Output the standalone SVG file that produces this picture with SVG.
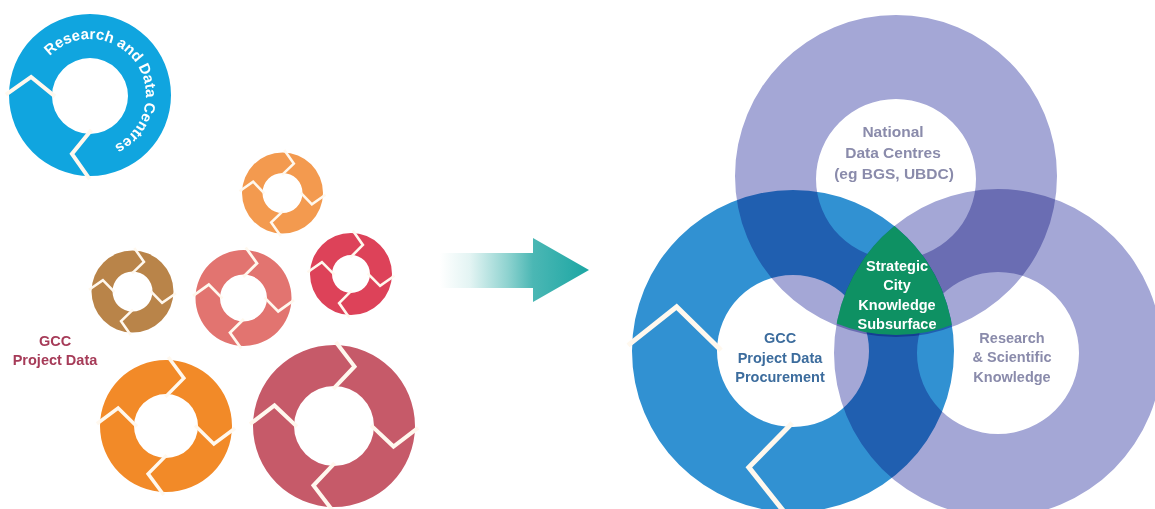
<svg xmlns="http://www.w3.org/2000/svg" width="1155" height="509" viewBox="0 0 1155 509">
<defs>
<style>
.chev{fill:none;stroke:#fff8ee;stroke-linejoin:miter;stroke-miterlimit:10}
.vring{fill-rule:evenodd;mix-blend-mode:multiply}
.lbl{font-family:"Liberation Sans",Arial,sans-serif;font-weight:700;text-anchor:middle}
.grey{fill:#8a8bab;font-size:15.5px}
.steel{fill:#3c6c9d;font-size:14.5px}
.core{fill:#ffffff;font-size:14.5px}
.rose{fill:#a63b58;font-size:14.5px}
</style>
<linearGradient id="arrowGrad" gradientUnits="userSpaceOnUse" x1="440" y1="0" x2="590" y2="0">
<stop offset="0" stop-color="#ffffff"/>
<stop offset="0.2" stop-color="#e3f4f3"/>
<stop offset="0.45" stop-color="#8fd3d0"/>
<stop offset="0.62" stop-color="#4bb7b4"/>
<stop offset="1" stop-color="#1ba6a3"/>
</linearGradient>
<clipPath id="clipL"><circle cx="793" cy="351" r="161"/></clipPath>
<clipPath id="clipR"><circle cx="998" cy="353" r="164"/></clipPath>
<path id="rdcPath" d="M 49.7 56.1 A 56 56 0 1 1 95.9 150.7"/>
</defs>
<rect x="0" y="0" width="1155" height="509" fill="#ffffff"/>

<!-- Research and Data Centres ring -->
<g id="ring-research-data-centres">
<path fill="#10a5df" fill-rule="evenodd" d="M9,95 a81,81 0 1,0 162,0 a81,81 0 1,0 -162,0 Z M52,96 a38,38 0 1,0 76,0 a38,38 0 1,0 -76,0 Z"/>
<g transform="translate(90,95)">
<path class="chev" stroke-width="4" transform="rotate(272)" d="M -2.6,-84 L 16,-59.5 L -2.6,-35"/>
<path class="chev" stroke-width="4" transform="rotate(182)" d="M -2.6,-84 L 16,-59.5 L -2.6,-35"/>
</g>
<text class="lbl" style="font-size:15px;text-anchor:start" fill="#ffffff"><textPath href="#rdcPath">Research and Data Centres</textPath></text>
</g>

<!-- small rings -->
<g id="ring-orange-small">
<path fill="#f39a4f" fill-rule="evenodd" d="M242,193 a40.5,40.5 0 1,0 81,0 a40.5,40.5 0 1,0 -81,0 Z M262.5,193 a20,20 0 1,0 40,0 a20,20 0 1,0 -40,0 Z"/>
<g transform="translate(282.5,193)">
<path class="chev" stroke-width="2.6" transform="rotate(5)" d="M -2,-43 L 8.7,-30.25 L -2,-18"/>
<path class="chev" stroke-width="2.6" transform="rotate(95)" d="M -2,-43 L 8.7,-30.25 L -2,-18"/>
<path class="chev" stroke-width="2.6" transform="rotate(185)" d="M -2,-43 L 8.7,-30.25 L -2,-18"/>
<path class="chev" stroke-width="2.6" transform="rotate(275)" d="M -2,-43 L 8.7,-30.25 L -2,-18"/>
</g>
</g>

<g id="ring-brown">
<path fill="#b98449" fill-rule="evenodd" d="M91.5,291.5 a41,41 0 1,0 82,0 a41,41 0 1,0 -82,0 Z M112.5,291.5 a20,20 0 1,0 40,0 a20,20 0 1,0 -40,0 Z"/>
<g transform="translate(132.5,291.5)">
<path class="chev" stroke-width="2.6" transform="rotate(5)" d="M -2,-43.5 L 8.8,-30.5 L -2,-18"/>
<path class="chev" stroke-width="2.6" transform="rotate(95)" d="M -2,-43.5 L 8.8,-30.5 L -2,-18"/>
<path class="chev" stroke-width="2.6" transform="rotate(185)" d="M -2,-43.5 L 8.8,-30.5 L -2,-18"/>
<path class="chev" stroke-width="2.6" transform="rotate(275)" d="M -2,-43.5 L 8.8,-30.5 L -2,-18"/>
</g>
</g>

<g id="ring-salmon">
<path fill="#e27470" fill-rule="evenodd" d="M195.5,298 a48,48 0 1,0 96,0 a48,48 0 1,0 -96,0 Z M220,298 a23.5,23.5 0 1,0 47,0 a23.5,23.5 0 1,0 -47,0 Z"/>
<g transform="translate(243.5,298)">
<path class="chev" stroke-width="2.8" transform="rotate(5)" d="M -2.2,-50.5 L 10.4,-35.75 L -2.2,-21"/>
<path class="chev" stroke-width="2.8" transform="rotate(95)" d="M -2.2,-50.5 L 10.4,-35.75 L -2.2,-21"/>
<path class="chev" stroke-width="2.8" transform="rotate(185)" d="M -2.2,-50.5 L 10.4,-35.75 L -2.2,-21"/>
<path class="chev" stroke-width="2.8" transform="rotate(275)" d="M -2.2,-50.5 L 10.4,-35.75 L -2.2,-21"/>
</g>
</g>

<g id="ring-crimson-small">
<path fill="#dd4259" fill-rule="evenodd" d="M310,274 a41,41 0 1,0 82,0 a41,41 0 1,0 -82,0 Z M332,274 a19,19 0 1,0 38,0 a19,19 0 1,0 -38,0 Z"/>
<g transform="translate(351,274)">
<path class="chev" stroke-width="2.6" transform="rotate(5)" d="M -2,-43.5 L 9.3,-30 L -2,-16.5"/>
<path class="chev" stroke-width="2.6" transform="rotate(95)" d="M -2,-43.5 L 9.3,-30 L -2,-16.5"/>
<path class="chev" stroke-width="2.6" transform="rotate(185)" d="M -2,-43.5 L 9.3,-30 L -2,-16.5"/>
<path class="chev" stroke-width="2.6" transform="rotate(275)" d="M -2,-43.5 L 9.3,-30 L -2,-16.5"/>
</g>
</g>

<g id="ring-orange-large">
<path fill="#f28a28" fill-rule="evenodd" d="M100,426 a66,66 0 1,0 132,0 a66,66 0 1,0 -132,0 Z M134,426 a32,32 0 1,0 64,0 a32,32 0 1,0 -64,0 Z"/>
<g transform="translate(166,426)">
<path class="chev" stroke-width="3.5" transform="rotate(4)" d="M -2.6,-69 L 14.5,-49 L -2.6,-29"/>
<path class="chev" stroke-width="3.5" transform="rotate(94)" d="M -2.6,-69 L 14.5,-49 L -2.6,-29"/>
<path class="chev" stroke-width="3.5" transform="rotate(184)" d="M -2.6,-69 L 14.5,-49 L -2.6,-29"/>
<path class="chev" stroke-width="3.5" transform="rotate(274)" d="M -2.6,-69 L 14.5,-49 L -2.6,-29"/>
</g>
</g>

<g id="ring-crimson-large">
<path fill="#c65a69" fill-rule="evenodd" d="M253,426 a81,81 0 1,0 162,0 a81,81 0 1,0 -162,0 Z M294,426 a40,40 0 1,0 80,0 a40,40 0 1,0 -80,0 Z"/>
<g transform="translate(334,426)">
<path class="chev" stroke-width="4" transform="rotate(3)" d="M -2.6,-84 L 17.4,-60.5 L -2.6,-37"/>
<path class="chev" stroke-width="4" transform="rotate(93)" d="M -2.6,-84 L 17.4,-60.5 L -2.6,-37"/>
<path class="chev" stroke-width="4" transform="rotate(183)" d="M -2.6,-84 L 17.4,-60.5 L -2.6,-37"/>
<path class="chev" stroke-width="4" transform="rotate(273)" d="M -2.6,-84 L 17.4,-60.5 L -2.6,-37"/>
</g>
</g>

<g id="label-gcc-project-data">
<text class="lbl rose" x="55" y="346">GCC</text>
<text class="lbl rose" x="55" y="365">Project Data</text>
</g>

<!-- connectors -->
<g id="connectors">
<polygon id="arrow" fill="url(#arrowGrad)" points="440,253 533,253 533,238 589,270 533,302 533,288 440,288"/>
</g>

<!-- Venn rings -->
<g id="venn" style="isolation:isolate">
<g id="venn-national">
<path class="vring" fill="#a4a7d6" d="M735,176 a161,161 0 1,0 322,0 a161,161 0 1,0 -322,0 Z M816,179 a80,80 0 1,0 160,0 a80,80 0 1,0 -160,0 Z"/>
</g>
<g id="venn-gcc">
<path class="vring" fill="#3191d2" d="M632,351 a161,161 0 1,0 322,0 a161,161 0 1,0 -322,0 Z M717,351 a76,76 0 1,0 152,0 a76,76 0 1,0 -152,0 Z"/>
</g>
<g id="venn-research">
<path class="vring" fill="#a4a7d6" d="M834,353 a164,164 0 1,0 328,0 a164,164 0 1,0 -328,0 Z M917,353 a81,81 0 1,0 162,0 a81,81 0 1,0 -162,0 Z"/>
</g>
</g>
<g id="venn-gcc-chevrons" transform="translate(793,351)">
<path class="chev" stroke="#ffffff" stroke-width="5" transform="rotate(273)" d="M -3,-165 L 38,-118.5 L -3,-72"/>
<path class="chev" stroke="#ffffff" stroke-width="5" transform="rotate(183)" d="M -3,-165 L 38,-118.5 L -3,-72"/>
</g>
<g id="venn-core">
<g clip-path="url(#clipR)"><circle cx="896" cy="174" r="161" fill="#0e9163" clip-path="url(#clipL)"/></g>
</g>

<g id="venn-labels">
<g id="label-national">
<text class="lbl grey" x="893" y="137">National</text>
<text class="lbl grey" x="893" y="158">Data Centres</text>
<text class="lbl grey" x="894" y="179">(eg BGS, UBDC)</text>
</g>
<g id="label-gcc-procurement">
<text class="lbl steel" x="780" y="343">GCC</text>
<text class="lbl steel" x="780" y="363">Project Data</text>
<text class="lbl steel" x="780" y="382">Procurement</text>
</g>
<g id="label-core">
<text class="lbl core" x="897" y="271">Strategic</text>
<text class="lbl core" x="897" y="290">City</text>
<text class="lbl core" x="897" y="310">Knowledge</text>
<text class="lbl core" x="897" y="329">Subsurface</text>
</g>
<g id="label-research">
<text class="lbl grey" style="font-size:14.5px" x="1012" y="343">Research</text>
<text class="lbl grey" style="font-size:14.5px" x="1012" y="362">&amp; Scientific</text>
<text class="lbl grey" style="font-size:14.5px" x="1012" y="382">Knowledge</text>
</g>
</g>
</svg>
